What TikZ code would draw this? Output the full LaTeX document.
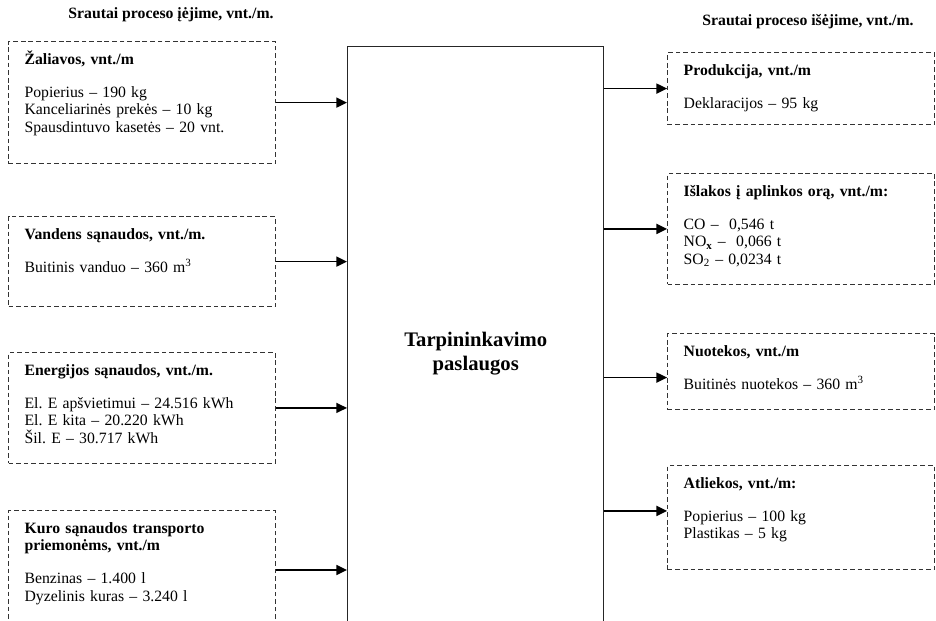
\documentclass[tikz,border=0pt]{standalone}
\usepackage{fontspec}
\setmainfont{Liberation Serif}
\usetikzlibrary{arrows.meta,positioning}

\tikzset{
  flow/.style={draw=black!80, dash pattern=on 3.5pt off 2.2pt, line width=0.9pt,
    anchor=north west, text width=176pt, align=left, inner xsep=12pt,
    inner ysep=8pt, text height=9pt,
    font=\fontsize{11.8}{13.2}\selectfont\frenchspacing},
  flowhead/.style={font=\fontsize{11.8}{13.2}\selectfont\bfseries},
  feed/.style={line width=1.2pt, -{Triangle[length=8pt,width=7.5pt]}},
}

\begin{document}
\begin{tikzpicture}[x=0.75pt,y=-0.75pt]
\useasboundingbox (0,0) rectangle (936,621);

% Headers
\node[flowhead] (inhead) at (171,15) {Srautai proceso įėjime, vnt./m.};
\node[flowhead] (outhead) at (808,22) {Srautai proceso išėjime, vnt./m.};

% Process
\node[draw=black!85, line width=1.1pt, anchor=north west, minimum width=192pt,
  minimum height=460.5pt, align=center,
  font=\fontsize{15.5}{18.5}\selectfont\bfseries] (mid) at (347,46)
  {Tarpininkavimo\\paslaugos};

% Inputs
\node[flow, text depth=66.5pt] (raw) at (8,41)
  {\textbf{Žaliavos, vnt./m}\\[11.5pt]
   Popierius – 190 kg\\
   Kanceliarinės prekės – 10 kg\\
   Spausdintuvo kasetės – 20 vnt.};
\node[flow, text depth=42.5pt] (water) at (8,216)
  {\textbf{Vandens sąnaudos, vnt./m.}\\[11.5pt]
   Buitinis vanduo – 360 m\textsuperscript{3}};
\node[flow, text depth=58pt] (energy) at (8,352)
  {\textbf{Energijos sąnaudos, vnt./m.}\\[11.5pt]
   El. E apšvietimui – 24.516 kWh\\
   El. E kita – 20.220 kWh\\
   Šil. E – 30.717 kWh};
\node[flow, text depth=90pt] (fuel) at (8,510)
  {\textbf{Kuro sąnaudos transporto}\\
   \textbf{priemonėms, vnt./m}\\[11.5pt]
   Benzinas – 1.400 l\\
   Dyzelinis kuras – 3.240 l};

% Outputs
\node[flow, anchor=north east, text depth=29pt] (product) at (935,52)
  {\textbf{Produkcija, vnt./m}\\[11.5pt]
   Deklaracijos – 95 kg};
\node[flow, anchor=north east, text depth=58pt] (air) at (935,173)
  {\textbf{Išlakos į aplinkos orą, vnt./m:}\\[11.5pt]
   CO – \ 0,546 t\\
   NO\textsubscript{\textbf{x}} – \ 0,066 t\\
   SO\textsubscript{2} – 0,0234 t};
\node[flow, anchor=north east, text depth=32pt] (sewage) at (935,333)
  {\textbf{Nuotekos, vnt./m}\\[11.5pt]
   Buitinės nuotekos – 360 m\textsuperscript{3}};
\node[flow, anchor=north east, text depth=53pt] (waste) at (935,465)
  {\textbf{Atliekos, vnt./m:}\\[11.5pt]
   Popierius – 100 kg\\
   Plastikas – 5 kg};

% Arrows in
\draw[feed] (raw.east) -- (raw.east -| mid.west);
\draw[feed] (water.east) -- (water.east -| mid.west);
\draw[feed] (energy.east) -- (energy.east -| mid.west);
\coordinate (fuelout) at (276,570);
\draw[feed] (fuelout -| fuel.east) -- (fuelout -| mid.west);

% Arrows out
\draw[feed] (product.west -| mid.east) -- (product.west);
\draw[feed] (air.west -| mid.east) -- (air.west);
\coordinate (sewagein) at ([yshift=-4.5pt]sewage.west);
\draw[feed] (sewagein -| mid.east) -- (sewagein);
\coordinate (wastein) at ([yshift=5pt]waste.west);
\draw[feed] (wastein -| mid.east) -- (wastein);

\end{tikzpicture}
\end{document}
